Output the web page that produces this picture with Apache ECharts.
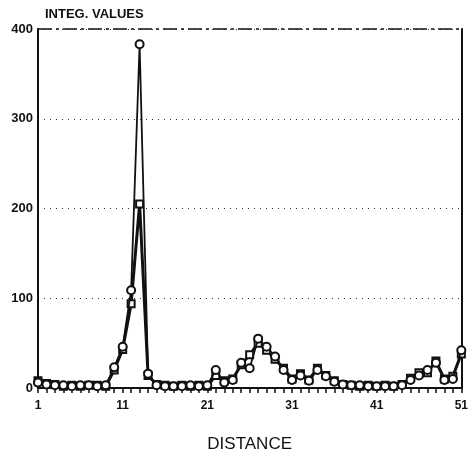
<!DOCTYPE html>
<html>
<head>
<meta charset="utf-8">
<script src="https://cdn.jsdelivr.net/npm/echarts@6/dist/echarts.min.js"></script>
<style>
  html, body { margin: 0; padding: 0; background: #fff; }
  #chartBox { width: 471px; height: 459px; }
</style>
</head>
<body>
<div id="chartBox"></div>
<script>
// distance 1..51
const distance = []
for (let i = 1; i <= 51; i++) distance.push(String(i))
const xTickLabels = ['1', '11', '21', '31', '41', '51']
const yTicks = [0, 100, 200, 300, 400]

// circles, thin line
const circleValues = [6, 4, 3, 3, 2, 3, 3, 2, 3, 23, 46, 109, 383, 16, 3, 2, 2, 2, 3, 2,
  3, 20, 6, 9, 28, 22, 55, 46, 35, 20, 9, 14, 8, 20, 13, 7, 4, 3, 3, 2,
  2, 2, 2, 3, 9, 14, 20, 28, 9, 10, 42]
// squares, heavy line
const squareValues = [8, 5, 4, 2, 3, 2, 3, 3, 2, 20, 43, 94, 205, 14, 4, 3, 2, 3, 2, 3,
  2, 14, 8, 10, 26, 37, 50, 42, 32, 22, 10, 16, 9, 22, 14, 8, 4, 3, 2, 3,
  2, 3, 2, 4, 11, 17, 17, 30, 10, 13, 38]

let myChart = echarts.init(document.getElementById('chartBox'))
let ink = '#111'
let option = {
  backgroundColor: '#fff',
  animation: false,
  title: {
    text: 'INTEG. VALUES',
    left: 40,
    top: 3,
    textStyle: { fontFamily: 'Liberation Sans', fontWeight: 'bold', fontSize: 13, color: ink }
  },
  grid: { left: 38, right: 5, top: 29, bottom: 71 },
  xAxis: {
    type: 'category',
    data: distance,
    boundaryGap: false,
    name: 'DISTANCE',
    nameLocation: 'middle',
    nameGap: 48,
    nameTextStyle: { fontFamily: 'Liberation Sans', fontSize: 17, color: ink },
    axisLine: { lineStyle: { color: ink, width: 2 } },
    axisTick: { show: true, interval: 0, length: 5, lineStyle: { color: ink, width: 1.5 } },
    axisLabel: {
      interval: 0,
      margin: 12,
      fontFamily: 'Liberation Sans',
      fontWeight: 'bold',
      fontSize: 12,
      color: ink,
      formatter: function (v) { return xTickLabels.indexOf(v) !== -1 ? v : '' }
    },
    splitLine: { show: false }
  },
  yAxis: [
    {
      type: 'value',
      min: 0,
      max: 400,
      interval: 100,
      axisLine: { show: true, lineStyle: { color: ink, width: 2 } },
      axisTick: { show: false },
      axisLabel: {
        margin: 5,
        fontFamily: 'Liberation Sans',
        fontWeight: 'bold',
        fontSize: 13,
        color: ink,
        formatter: function (v) { return yTicks.indexOf(v) !== -1 ? String(v) : '' }
      },
      splitLine: { lineStyle: { color: '#333', type: [1, 5], width: 1.2 } }
    },
    {
      type: 'value',
      min: 0,
      max: 400,
      position: 'right',
      axisLine: { show: true, lineStyle: { color: ink, width: 2 } },
      axisTick: { show: false },
      axisLabel: { show: false },
      splitLine: { show: false }
    }
  ],
  series: [
    {
      name: 'squares',
      type: 'line',
      data: squareValues,
      symbol: 'emptyRect',
      symbolSize: 7,
      lineStyle: { color: ink, width: 3 },
      itemStyle: { color: ink, borderWidth: 1.5 },
      z: 3
    },
    {
      name: 'circles',
      type: 'line',
      data: circleValues,
      symbol: 'emptyCircle',
      symbolSize: 8,
      lineStyle: { color: ink, width: 1.8 },
      itemStyle: { color: ink, borderWidth: 1.5 },
      z: 4,
      markLine: {
        silent: true,
        symbol: 'none',
        label: { show: false },
        lineStyle: { color: ink, width: 1.5, type: [14, 4, 3, 4] },
        data: [{ yAxis: 400 }]
      }
    }
  ]
}
myChart.setOption(option)
</script>
</body>
</html>
